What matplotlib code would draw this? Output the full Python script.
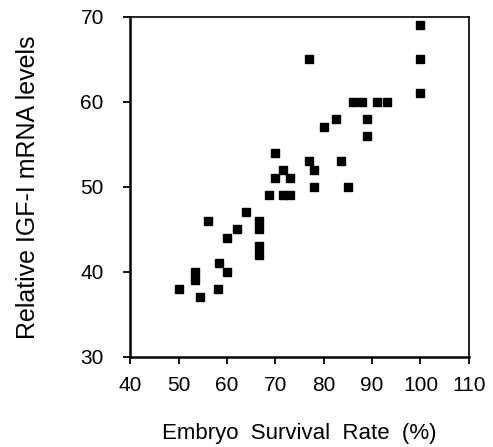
import matplotlib.pyplot as plt

survival = [50, 53.4, 53.4, 54.4, 56, 58.2, 58.4, 60, 60, 62, 64,
            66.7, 66.7, 66.7, 66.7, 68.7, 70, 70, 71.5, 71.5, 73, 73,
            77, 77, 78, 78, 80, 82.5, 83.5, 85, 86, 88, 89, 89,
            91, 93, 100, 100, 100]
igf = [38, 40, 39, 37, 46, 38, 41, 40, 44, 45, 47,
       46, 45, 43, 42, 49, 54, 51, 52, 49, 51, 49,
       65, 53, 52, 50, 57, 58, 53, 50, 60, 60, 58, 56,
       60, 60, 69, 65, 61]

x_ticks = [40, 50, 60, 70, 80, 90, 100, 110]
y_ticks = [30, 40, 50, 60, 70]

plt.rcParams.update({
    "font.family": ["Liberation Sans", "DejaVu Sans"],
    "font.size": 15,
})

fig = plt.figure(figsize=(4.93, 4.47), dpi=100)
ax = fig.add_axes([0.264, 0.202, 0.687, 0.76])

ax.plot(survival, igf, linestyle="none", marker="s", markersize=5.8,
        color="black")

ax.set_xlim(40, 110)
ax.set_ylim(30, 70)
ax.set_xticks(x_ticks)
ax.set_yticks(y_ticks)
ax.tick_params(axis="both", direction="out", length=5, width=1.3,
               labelsize=15)
ax.tick_params(axis="y", pad=14)
ax.tick_params(axis="x", pad=9)

for side in ["left", "bottom"]:
    ax.spines[side].set_linewidth(1.8)
for side in ["top", "right"]:
    ax.spines[side].set_linewidth(1.2)

ax.set_xlabel("Embryo  Survival  Rate  (%)", fontsize=16, labelpad=20)
ax.set_ylabel("Relative IGF-I mRNA levels", fontsize=18, labelpad=29)

plt.savefig("out.png", dpi=100)
